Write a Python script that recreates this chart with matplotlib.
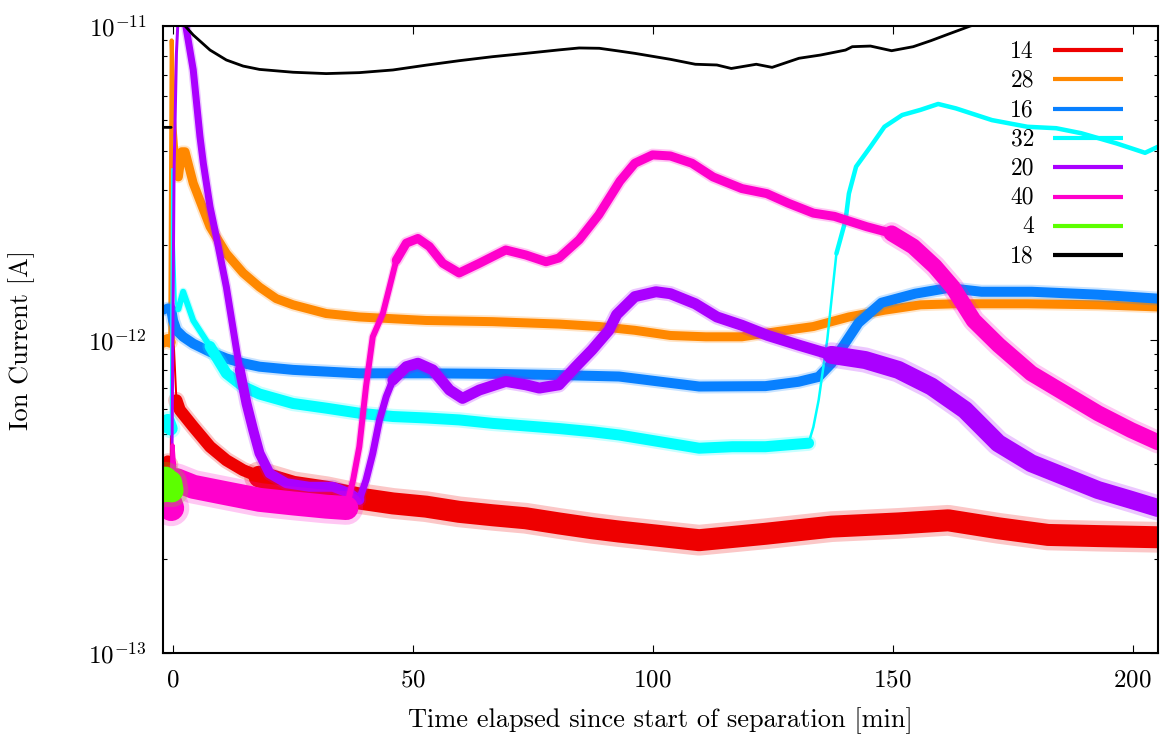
import numpy as np
import matplotlib
matplotlib.use("Agg")
import matplotlib.pyplot as plt

plt.rcParams['font.family'] = 'serif'
plt.rcParams['font.serif'] = ['cmr10']
plt.rcParams['mathtext.fontset'] = 'cm'
plt.rcParams['axes.formatter.use_mathtext'] = True

# mass channels in plotting order (later ones drawn on top)
masses = ['14', '28', '16', '32', '20', '40', '4', '18']
colors = ['#ee0000', '#ff8800', '#0880ff', '#00ffff', '#aa00ff', '#ff00cc', '#5cff00', '#000000']

# time [min] and ion current [A] per channel
t14 = [-2.0, -1.0, -0.4, -0.1, 0.2, 0.8, 1.5, 4.3, 7.8, 11.2, 14.7, 18.1, 25.1, 32.0, 38.9, 45.9,
       52.8, 59.7, 66.7, 73.6, 80.5, 87.4, 93.0, 109.7, 123.5, 137.3, 151.2, 161.6, 172.0, 182.4,
       192.8, 205.3]
i14 = [4.0e-13, 4.1e-13, 4.0e-13, 1.6e-12, 1.0e-12, 6.4e-13, 5.96e-13, 5.27e-13, 4.55e-13, 4.12e-13,
       3.83e-13, 3.65e-13, 3.39e-13, 3.27e-13, 3.11e-13, 3.0e-13, 2.93e-13, 2.82e-13, 2.75e-13,
       2.69e-13, 2.59e-13, 2.5e-13, 2.44e-13, 2.29e-13, 2.4e-13, 2.53e-13, 2.59e-13, 2.65e-13,
       2.5e-13, 2.38e-13, 2.36e-13, 2.34e-13]

t28 = [-2.0, -1.0, -0.5, -0.2, 0.3, 1.2, 1.9, 2.6, 4.3, 7.8, 11.2, 14.7, 18.1, 21.6, 25.1, 32.0,
       38.9, 52.8, 66.7, 80.5, 88.9, 96.3, 103.7, 111.1, 118.6, 126.0, 133.5, 140.9, 148.3, 155.8,
       163.2, 178.1, 193.0, 205.3]
i28 = [9.8e-13, 1.0e-12, 9.8e-13, 9.0e-12, 5.0e-12, 3.3e-12, 3.97e-12, 3.97e-12, 3.15e-12, 2.29e-12,
       1.88e-12, 1.63e-12, 1.47e-12, 1.35e-12, 1.29e-12, 1.21e-12, 1.18e-12, 1.15e-12, 1.14e-12,
       1.12e-12, 1.1e-12, 1.07e-12, 1.03e-12, 1.02e-12, 1.02e-12, 1.06e-12, 1.1e-12, 1.18e-12,
       1.24e-12, 1.29e-12, 1.3e-12, 1.3e-12, 1.29e-12, 1.27e-12]

t16 = [-2.0, -1.0, -0.3, 0.1, 0.8, 2.2, 4.3, 7.8, 11.2, 14.7, 18.1, 25.1, 32.0, 38.9, 52.8, 66.7,
       80.5, 93.0, 109.7, 123.5, 130.4, 134.6, 137.3, 140.1, 142.9, 147.7, 154.7, 161.6, 168.5,
       179.0, 192.8, 205.3]
i16 = [1.24e-12, 1.26e-12, 1.25e-12, 1.15e-12, 1.07e-12, 1.02e-12, 9.7e-13, 9.13e-13, 8.7e-13,
       8.4e-13, 8.19e-13, 8.0e-13, 7.9e-13, 7.8e-13, 7.8e-13, 7.77e-13, 7.7e-13, 7.62e-13, 7.08e-13,
       7.1e-13, 7.33e-13, 7.6e-13, 8.4e-13, 9.73e-13, 1.13e-12, 1.31e-12, 1.4e-12, 1.46e-12,
       1.42e-12, 1.42e-12, 1.39e-12, 1.35e-12]

t32 = [-2.0, -1.0, -0.4, -0.1, 0.3, 0.7, 1.2, 2.2, 4.3, 7.8, 11.2, 14.7, 18.1, 25.1, 32.0, 38.9,
       45.9, 52.8, 59.7, 66.7, 73.6, 80.5, 87.4, 93.0, 109.7, 116.6, 123.5, 132.5, 133.5, 134.6,
       136.4, 138.3, 140.2, 140.9, 142.4, 145.4, 148.3, 152.0, 155.8, 159.5, 163.2, 170.7, 178.1,
       184.1, 189.3, 196.7, 202.6, 205.3]
i32 = [5.3e-13, 5.5e-13, 5.2e-13, 3.5e-12, 2.0e-12, 1.3e-12, 1.25e-12, 1.42e-12, 1.15e-12, 9.5e-13,
       7.8e-13, 7.08e-13, 6.7e-13, 6.25e-13, 6.04e-13, 5.82e-13, 5.68e-13, 5.62e-13, 5.54e-13,
       5.4e-13, 5.3e-13, 5.2e-13, 5.08e-13, 4.96e-13, 4.5e-13, 4.55e-13, 4.55e-13, 4.67e-13,
       5.26e-13, 6.41e-13, 1.0e-12, 1.88e-12, 2.4e-12, 2.92e-12, 3.56e-12, 4.12e-12, 4.77e-12,
       5.2e-12, 5.4e-12, 5.64e-12, 5.46e-12, 5.01e-12, 4.77e-12, 4.72e-12, 4.55e-12, 4.22e-12,
       3.94e-12, 4.12e-12]

t20 = [-2.0, -1.0, -0.2, 0.3, 0.8, 1.2, 2.0, 2.9, 4.3, 5.7, 6.4, 7.8, 9.1, 11.2, 13.3, 14.0, 15.4,
       16.8, 18.1, 20.2, 23.7, 28.5, 33.4, 36.9, 38.9, 40.3, 41.7, 43.1, 44.5, 45.9, 48.7, 51.1,
       54.2, 57.7, 60.4, 63.9, 69.4, 73.6, 76.4, 80.5, 84.0, 87.4, 90.9, 92.5, 96.3, 100.7, 103.7,
       108.9, 113.4, 118.6, 124.0, 130.4, 137.3, 144.3, 151.2, 158.1, 165.1, 172.0, 178.9, 185.9,
       192.8, 199.7, 205.3]
i20 = [3.0e-13, 3.1e-13, 3.0e-13, 3.4e-12, 8.2e-12, 1.1e-11, 1.2e-11, 9.7e-12, 7.24e-12, 4.44e-12,
       3.65e-12, 2.65e-12, 2.13e-12, 1.47e-12, 9.3e-13, 8.0e-13, 6.25e-13, 5.14e-13, 4.34e-13,
       3.74e-13, 3.48e-13, 3.39e-13, 3.39e-13, 3.23e-13, 3.08e-13, 3.56e-13, 4.33e-13, 5.53e-13,
       6.57e-13, 7.43e-13, 8.19e-13, 8.4e-13, 8.0e-13, 6.9e-13, 6.49e-13, 6.9e-13, 7.35e-13,
       7.17e-13, 7.0e-13, 7.17e-13, 8.19e-13, 9.27e-13, 1.07e-12, 1.2e-12, 1.37e-12, 1.42e-12,
       1.4e-12, 1.3e-12, 1.18e-12, 1.11e-12, 1.03e-12, 9.6e-13, 8.93e-13, 8.6e-13, 8.0e-13,
       7.08e-13, 5.96e-13, 4.67e-13, 4.03e-13, 3.65e-13, 3.31e-13, 3.08e-13, 2.9e-13]

t40 = [-2.0, -1.0, -0.3, 0.0, 0.4, 0.8, 4.3, 11.2, 18.1, 25.1, 32.0, 36.2, 37.6, 38.9, 40.3, 41.7,
       43.8, 45.2, 46.6, 48.7, 51.1, 53.5, 56.3, 59.7, 63.9, 69.4, 73.6, 77.8, 80.5, 84.7, 88.8,
       93.2, 96.3, 100.0, 103.7, 108.2, 112.6, 118.6, 123.8, 128.3, 133.5, 137.9, 144.6, 149.8,
       154.3, 158.8, 162.5, 166.9, 172.1, 178.9, 185.9, 192.8, 199.7, 205.3]
i40 = [3.0e-13, 3.1e-13, 2.9e-13, 4.6e-13, 3.8e-13, 3.56e-13, 3.39e-13, 3.23e-13, 3.08e-13, 3.0e-13,
       2.93e-13, 2.9e-13, 3.56e-13, 4.55e-13, 7.08e-13, 1.02e-12, 1.21e-12, 1.47e-12, 1.79e-12,
       2.03e-12, 2.1e-12, 1.98e-12, 1.75e-12, 1.63e-12, 1.75e-12, 1.93e-12, 1.86e-12, 1.77e-12,
       1.82e-12, 2.08e-12, 2.5e-12, 3.2e-12, 3.65e-12, 3.88e-12, 3.85e-12, 3.65e-12, 3.3e-12,
       3.03e-12, 2.92e-12, 2.72e-12, 2.53e-12, 2.47e-12, 2.29e-12, 2.18e-12, 1.98e-12, 1.71e-12,
       1.47e-12, 1.15e-12, 9.6e-13, 7.8e-13, 6.73e-13, 5.82e-13, 5.14e-13, 4.7e-13]

t4 = [-2.0, -1.5, -1.0, -0.5, -0.2]
i4 = [3.3e-13, 3.6e-13, 3.4e-13, 3.5e-13, 3.3e-13]

t18 = [-2.0, -0.3, np.nan, 1.0, 2.6, 4.3, 7.8, 11.2, 14.7, 18.1, 25.1, 32.0, 38.9, 45.9, 52.8, 59.7,
       66.6, 73.6, 80.5, 84.7, 88.9, 93.0, 96.3, 103.7, 108.9, 113.4, 116.4, 121.6, 124.9, 130.5,
       135.0, 140.2, 141.6, 145.4, 149.8, 154.3, 158.0, 161.7, 166.2, 180.0, 205.3]
i18 = [4.75e-12, 4.75e-12, np.nan, 1.3e-11, 1.0e-11, 9.36e-12, 8.38e-12, 7.79e-12, 7.45e-12, 7.27e-12,
       7.12e-12, 7.05e-12, 7.1e-12, 7.24e-12, 7.5e-12, 7.75e-12, 7.98e-12, 8.18e-12, 8.39e-12,
       8.51e-12, 8.49e-12, 8.32e-12, 8.18e-12, 7.83e-12, 7.55e-12, 7.51e-12, 7.32e-12, 7.55e-12,
       7.38e-12, 7.89e-12, 8.08e-12, 8.38e-12, 8.59e-12, 8.63e-12, 8.34e-12, 8.59e-12, 8.98e-12,
       9.43e-12, 1.0e-11, 1.15e-11, 1.3e-11]

series = {'14': (t14, i14), '28': (t28, i28), '16': (t16, i16), '32': (t32, i32),
          '20': (t20, i20), '40': (t40, i40), '4': (t4, i4), '18': (t18, i18)}

# width of the noisy trace (pixels) over time spans
spans = {
    '14': [(-3, -0.4, 11), (-0.4, 0.8, 2), (0.8, 18.1, 12), (18.1, 206, 22)],
    '28': [(-3, -0.5, 11), (-0.5, 1.2, 4), (1.2, 206, 9)],
    '16': [(-3, -0.3, 9), (-0.3, 206, 10)],
    '32': [(-3, -0.4, 14), (-0.4, 1.2, 2), (1.2, 7.8, 6), (7.8, 132.5, 11),
           (132.5, 138.3, 2.5), (138.3, 206, 4.5)],
    '20': [(-3, -0.2, 9), (-0.2, 1.2, 3), (1.2, 14.0, 7), (14.0, 38.9, 10),
           (38.9, 45.9, 7), (45.9, 140, 11), (140, 206, 18)],
    '40': [(-3, -0.3, 26), (-0.3, 0.8, 4), (0.8, 36.2, 24), (36.2, 46.6, 6),
           (46.6, 150, 9), (150, 206, 16)],
    '4': [(-3, 0, 24)],
    '18': [(-3, 206, 2.8)],
}

PT = 0.72  # points per pixel at 100 dpi


def span_slice(t, a, b):
    # indices from the last sample at/before a to the first sample at/after b
    idx = np.arange(len(t))
    ok = ~np.isnan(t)
    lo = idx[ok & (t <= a)]
    hi = idx[ok & (t >= b)]
    lo = lo[-1] if len(lo) else 0
    hi = hi[0] if len(hi) else len(t) - 1
    return slice(lo, hi + 1)


fig = plt.figure(figsize=(11.6, 7.36), dpi=100)
ax = fig.add_axes([163 / 1160, 83 / 736, 995 / 1160, 627 / 736])

for m, c in zip(masses, colors):
    t = np.asarray(series[m][0], dtype=float)
    y = np.asarray(series[m][1], dtype=float)
    segs = [(span_slice(t, a, b), w) for a, b, w in spans[m]]
    # faint halo for the scattered points around each band
    for sl, w in segs:
        if w >= 6:
            ax.plot(t[sl], y[sl], color=c, lw=w * 1.4 * PT, alpha=0.22,
                    solid_capstyle='round', solid_joinstyle='round')
    for sl, w in segs:
        ax.plot(t[sl], y[sl], color=c, lw=w * PT,
                solid_capstyle='round', solid_joinstyle='round')

ax.set_yscale('log')
ax.set_xlim(-2.0, 205.3)
ax.set_ylim(1e-13, 1e-11)
ax.set_yticks([1e-13, 1e-12, 1e-11])
ax.set_xticks([0, 50, 100, 150, 200])
ax.tick_params(which='both', direction='in', top=True, right=True, labelsize=18, width=0.8)
ax.tick_params(which='major', length=5.8, pad=12)
ax.tick_params(which='minor', length=3)
ax.tick_params(axis='x', which='minor', bottom=False, top=False)
for s in ax.spines.values():
    s.set_linewidth(1.5)

fig.text(22 / 1160, 1 - 339.5 / 736, 'Ion Current [A]', rotation=90,
         ha='center', va='center', fontsize=19)
fig.text(660.5 / 1160, 1 - 721 / 736, 'Time elapsed since start of separation [min]',
         ha='center', va='center', fontsize=19)

# key: right-aligned labels with line samples
for k, (m, c) in enumerate(zip(masses, colors)):
    py = 50 + k * 29.3
    yl = (653 - py) / 627
    ax.plot([(1053 - 163) / 995, (1123 - 163) / 995], [yl, yl], color=c, lw=3,
            transform=ax.transAxes, solid_capstyle='butt')
    ax.text((1034 - 163) / 995, (653 - py - 7.5) / 627, m, ha='right', va='baseline',
            fontsize=17, transform=ax.transAxes)

fig.savefig('out.png', dpi=100)
